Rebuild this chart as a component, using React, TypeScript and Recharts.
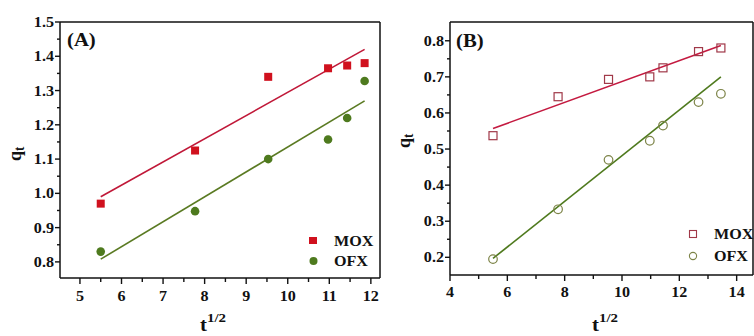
import React from 'react';
import { ScatterChart, Scatter, XAxis, YAxis } from 'recharts';

const FONT = '"Liberation Serif", "Times New Roman", serif';
const SX = 1.15;

// ---------- Panel A data ----------
const tA = [5.5, 7.77, 9.53, 10.97, 11.43, 11.85];
const moxA = [0.97, 1.125, 1.34, 1.365, 1.373, 1.38];
const ofxA = [0.83, 0.948, 1.1, 1.157, 1.22, 1.328];
const fitTA = [5.5, 11.85];
const fitMoxA = [0.99, 1.42];
const fitOfxA = [0.808, 1.27];

// ---------- Panel B data ----------
const tB = [5.5, 7.77, 9.53, 10.97, 11.43, 12.67, 13.45];
const moxB = [0.537, 0.645, 0.693, 0.7, 0.725, 0.77, 0.78];
const ofxB = [0.195, 0.333, 0.47, 0.523, 0.565, 0.63, 0.653];
const fitTB = [5.5, 13.45];
const fitMoxB = [0.557, 0.787];
const fitOfxB = [0.197, 0.7];

// ---------- Ticks ----------
const xMajorA = [5, 6, 7, 8, 9, 10, 11, 12];
const xMinorA = [5.5, 6.5, 7.5, 8.5, 9.5, 10.5, 11.5];
const yMajorA = [0.8, 0.9, 1.0, 1.1, 1.2, 1.3, 1.4, 1.5];
const yMinorA = [0.85, 0.95, 1.05, 1.15, 1.25, 1.35, 1.45];
const xMajorB = [4, 6, 8, 10, 12, 14];
const xMinorB = [5, 7, 9, 11, 13];
const yMajorB = [0.2, 0.3, 0.4, 0.5, 0.6, 0.7, 0.8];
const yMinorB = [0.25, 0.35, 0.45, 0.55, 0.65, 0.75];

const legendNames = ['MOX', 'OFX'];

const zip = (xs: number[], ys: number[]) => xs.map((x, i) => ({ x, y: ys[i] }));

const STr = ({ x, y, size, anchor = 'start', children }: any) => (
  <text
    transform={`translate(${x},${y}) scale(${SX},1)`}
    x={0}
    y={0}
    textAnchor={anchor}
    fontFamily={FONT}
    fontWeight="bold"
    fontSize={size}
    fill="#111"
  >
    {children}
  </text>
);

const isIn = (arr: number[], v: number) => arr.some((m) => Math.abs(m - v) < 1e-9);

const makeXTick = (majors: number[], fmt: (v: number) => string, gap: number) => (props: any) => {
  const { x, y, payload } = props;
  const v = payload.value;
  const major = isIn(majors, v);
  return (
    <g>
      <line x1={x} x2={x} y1={y} y2={y + (major ? 6 : 4)} stroke="#111" strokeWidth={1.4} />
      {major && (
        <STr x={x} y={y + gap} size={14} anchor="middle">
          {fmt(v)}
        </STr>
      )}
    </g>
  );
};

const makeYTick = (majors: number[], fmt: (v: number) => string) => (props: any) => {
  const { x, y, payload } = props;
  const v = payload.value;
  const major = isIn(majors, v);
  return (
    <g>
      <line x1={x} x2={x - (major ? 5 : 3)} y1={y} y2={y} stroke="#111" strokeWidth={1.4} />
      {major && (
        <STr x={x - 6} y={y + 5} size={14} anchor="end">
          {fmt(v)}
        </STr>
      )}
    </g>
  );
};

const sq = (fill: string, stroke: string, hollow: boolean) => (p: any) => (
  <rect
    x={p.cx - 4}
    y={p.cy - 4}
    width={8}
    height={8}
    fill={hollow ? 'none' : fill}
    stroke={stroke}
    strokeWidth={hollow ? 1.2 : 0}
  />
);
const ci = (fill: string, stroke: string, hollow: boolean) => (p: any) => (
  <circle
    cx={p.cx}
    cy={p.cy}
    r={4.3}
    fill={hollow ? 'none' : fill}
    stroke={stroke}
    strokeWidth={hollow ? 1.2 : 0}
  />
);
const none = () => <g />;

const fmt1 = (v: number) => v.toFixed(1);
const fmt0 = (v: number) => String(v);

const RED = '#d0111e';
const REDLINE = '#c01838';
const GREEN = '#4e7a1e';
const GREENLINE = '#5a7a22';

const AX = { stroke: '#111', strokeWidth: 1.5 };

function PanelA() {
  return (
    <ScatterChart width={382} height={336} margin={{ top: 21, right: 1, left: 59, bottom: 57 }}>
      <XAxis
        xAxisId="b"
        dataKey="x"
        type="number"
        domain={[4.52, 12.22]}
        allowDataOverflow
        ticks={[...xMajorA, ...xMinorA].sort((a, b) => a - b)}
        interval={0}
        height={1}
        tickSize={0}
        tickMargin={0}
        tickLine={false}
        axisLine={AX}
        tick={makeXTick(xMajorA, fmt0, 23)}
        label={{
          content: () => (
            <g>
              <STr x={200} y={331} size={18}>
                t
              </STr>
              <STr x={207} y={322} size={13}>
                1/2
              </STr>
            </g>
          ),
        }}
      />
      <XAxis
        xAxisId="t"
        orientation="top"
        dataKey="x"
        type="number"
        domain={[4.52, 12.22]}
        allowDataOverflow
        height={1}
        tick={false}
        tickLine={false}
        axisLine={AX}
        label={{
          content: () => (
            <STr x={67} y={46} size={18}>
              (A)
            </STr>
          ),
        }}
      />
      <YAxis
        yAxisId="l"
        dataKey="y"
        type="number"
        domain={[0.753, 1.5]}
        allowDataOverflow
        ticks={[...yMajorA, ...yMinorA].sort((a, b) => a - b)}
        interval={0}
        width={1}
        tickSize={0}
        tickMargin={0}
        tickLine={false}
        axisLine={AX}
        tick={makeYTick(yMajorA, fmt1)}
        label={{
          content: () => (
            <text
              transform="translate(21,161) rotate(-90) scale(1,1.1)"
              fontFamily={FONT}
              fontWeight="bold"
              fontSize={18}
              fill="#111"
            >
              q
              <tspan fontSize={13} dy={3}>
                t
              </tspan>
            </text>
          ),
        }}
      />
      <YAxis
        yAxisId="r"
        orientation="right"
        dataKey="y"
        type="number"
        domain={[0.753, 1.5]}
        allowDataOverflow
        width={1}
        tick={false}
        tickLine={false}
        axisLine={AX}
        label={{
          content: () => (
            <g>
              <rect x={309} y={237} width={8} height={7} fill={RED} />
              <STr x={334} y={246} size={14}>
                {legendNames[0]}
              </STr>
              <circle cx={313.5} cy={261} r={4} fill={GREEN} />
              <STr x={334} y={266} size={14}>
                {legendNames[1]}
              </STr>
            </g>
          ),
        }}
      />
      <Scatter
        xAxisId="b"
        yAxisId="l"
        data={zip(fitTA, fitMoxA)}
        line={{ stroke: REDLINE, strokeWidth: 1.6 }}
        shape={none}
        isAnimationActive={false}
      />
      <Scatter
        xAxisId="b"
        yAxisId="l"
        data={zip(fitTA, fitOfxA)}
        line={{ stroke: GREENLINE, strokeWidth: 1.6 }}
        shape={none}
        isAnimationActive={false}
      />
      <Scatter xAxisId="b" yAxisId="l" data={zip(tA, moxA)} shape={sq(RED, RED, false)} isAnimationActive={false} />
      <Scatter xAxisId="b" yAxisId="l" data={zip(tA, ofxA)} shape={ci(GREEN, GREEN, false)} isAnimationActive={false} />
    </ScatterChart>
  );
}

const MOXB = '#a03848';
const OFXB = '#7d8448';
const REDLINEB = '#c41a40';
const GREENLINEB = '#4f7a1e';

function PanelB() {
  return (
    <ScatterChart width={374} height={336} margin={{ top: 21, right: 0, left: 69, bottom: 60 }}>
      <XAxis
        xAxisId="b"
        dataKey="x"
        type="number"
        domain={[4, 14.57]}
        allowDataOverflow
        ticks={[...xMajorB, ...xMinorB].sort((a, b) => a - b)}
        interval={0}
        height={1}
        tickSize={0}
        tickMargin={0}
        tickLine={false}
        axisLine={AX}
        tick={makeXTick(xMajorB, fmt0, 22)}
        label={{
          content: () => (
            <g>
              <STr x={212} y={331} size={18}>
                t
              </STr>
              <STr x={219} y={322} size={13}>
                1/2
              </STr>
            </g>
          ),
        }}
      />
      <XAxis
        xAxisId="t"
        orientation="top"
        dataKey="x"
        type="number"
        domain={[4, 14.57]}
        allowDataOverflow
        height={1}
        tick={false}
        tickLine={false}
        axisLine={AX}
        label={{
          content: () => (
            <STr x={76} y={47} size={18}>
              (B)
            </STr>
          ),
        }}
      />
      <YAxis
        yAxisId="l"
        dataKey="y"
        type="number"
        domain={[0.151, 0.852]}
        allowDataOverflow
        ticks={[...yMajorB, ...yMinorB].sort((a, b) => a - b)}
        interval={0}
        width={1}
        tickSize={0}
        tickMargin={0}
        tickLine={false}
        axisLine={AX}
        tick={makeYTick(yMajorB, fmt1)}
        label={{
          content: () => (
            <text
              transform="translate(30,148) rotate(-90) scale(1,1.1)"
              fontFamily={FONT}
              fontWeight="bold"
              fontSize={18}
              fill="#111"
            >
              q
              <tspan fontSize={13} dy={3}>
                t
              </tspan>
            </text>
          ),
        }}
      />
      <YAxis
        yAxisId="r"
        orientation="right"
        dataKey="y"
        type="number"
        domain={[0.151, 0.852]}
        allowDataOverflow
        width={1}
        tick={false}
        tickLine={false}
        axisLine={AX}
        label={{
          content: () => (
            <g>
              <rect x={309.5} y={230.5} width={7} height={7} fill="none" stroke={MOXB} strokeWidth={1.1} />
              <STr x={334} y={239} size={14}>
                {legendNames[0]}
              </STr>
              <circle cx={313} cy={256} r={3.6} fill="none" stroke={OFXB} strokeWidth={1.1} />
              <STr x={334} y={261} size={14}>
                {legendNames[1]}
              </STr>
            </g>
          ),
        }}
      />
      <Scatter
        xAxisId="b"
        yAxisId="l"
        data={zip(fitTB, fitMoxB)}
        line={{ stroke: REDLINEB, strokeWidth: 1.6 }}
        shape={none}
        isAnimationActive={false}
      />
      <Scatter
        xAxisId="b"
        yAxisId="l"
        data={zip(fitTB, fitOfxB)}
        line={{ stroke: GREENLINEB, strokeWidth: 1.6 }}
        shape={none}
        isAnimationActive={false}
      />
      <Scatter xAxisId="b" yAxisId="l" data={zip(tB, moxB)} shape={sq(MOXB, MOXB, true)} isAnimationActive={false} />
      <Scatter xAxisId="b" yAxisId="l" data={zip(tB, ofxB)} shape={ci(OFXB, OFXB, true)} isAnimationActive={false} />
    </ScatterChart>
  );
}

export default function App() {
  return (
    <div style={{ position: 'absolute', left: 0, top: 0, width: 754, height: 336, background: '#fff' }}>
      <div style={{ position: 'absolute', left: 0, top: 0 }}>
        <PanelA />
      </div>
      <div style={{ position: 'absolute', left: 380, top: 0 }}>
        <PanelB />
      </div>
    </div>
  );
}
